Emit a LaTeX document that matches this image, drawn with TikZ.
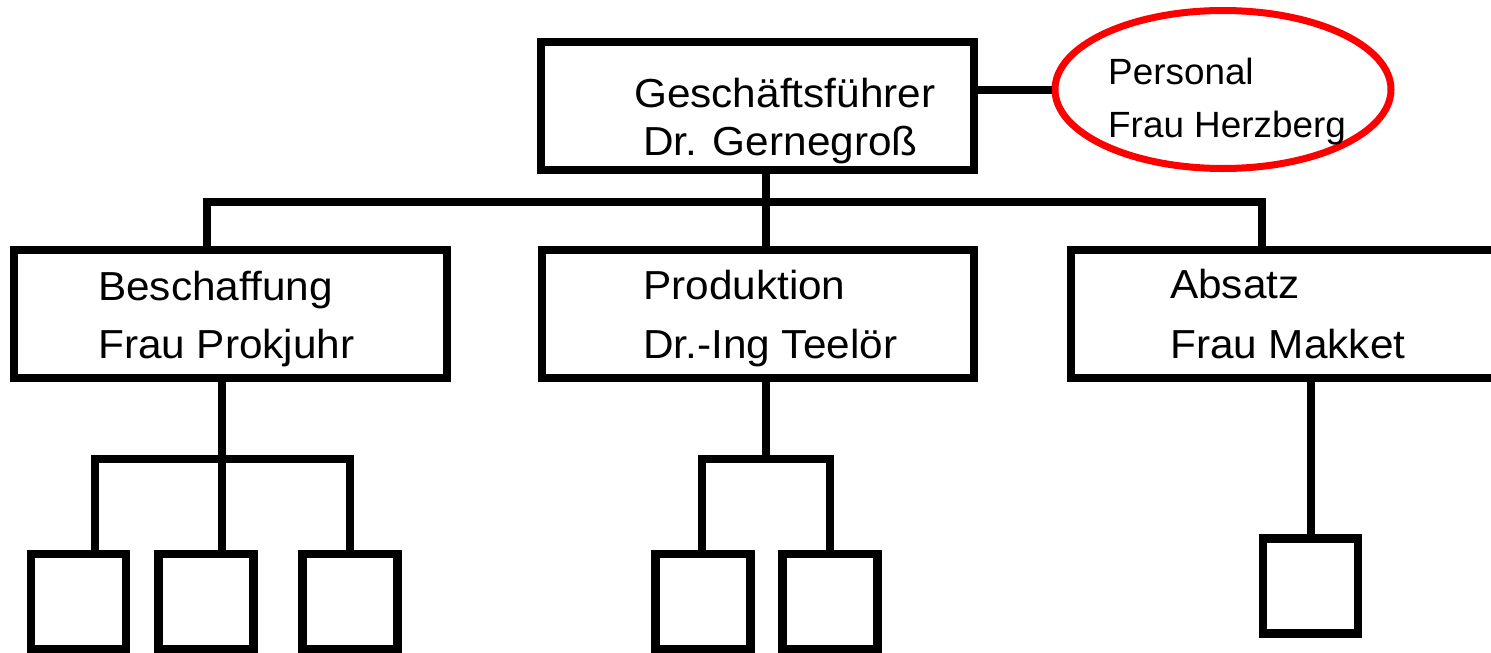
\documentclass[tikz,border=0pt]{standalone}
\usepackage{fontspec}
\setmainfont{Liberation Sans}[FakeStretch=1.045]
\newfontfamily\stafffont{Liberation Sans}[FakeStretch=1.01]
\usetikzlibrary{shapes.geometric}
\begin{document}
\begin{tikzpicture}[x=1pt,y=-1pt,
  unit/.style={draw=black,line width=8.5pt,rectangle,inner sep=0pt},
  dept/.style={unit,minimum width=433pt,minimum height=128pt},
  leaf/.style={unit,minimum width=95pt,minimum height=95pt},
  link/.style={draw=black,line width=8pt},
  lbl/.style={anchor=base west,inner sep=0pt,font=\fontsize{40.5}{49}\selectfont},
  slbl/.style={anchor=base west,inner sep=0pt,font=\stafffont\fontsize{36.5}{43}\selectfont},
  staff/.style={draw=red,line width=7pt,ellipse,inner sep=0pt,minimum width=336pt,minimum height=158pt}
]
\useasboundingbox (0,0) rectangle (1491,653);
\clip (0,0) rectangle (1491,653);

% management and staff position
\node[dept] (gf) at (757.5,106) {};
\node[staff] (pers) at (1223,89.5) {};

% departments
\node[dept] (bes) at (230.5,314) {};
\node[dept,minimum width=432pt] (prod) at (758,314) {};
\node[dept,minimum width=500pt] (abs) at (1321,314) {};

% sub-units
\node[leaf] (b1) at (78.5,601.5) {};
\node[leaf] (b2) at (206,601.5) {};
\node[leaf] (b3) at (350,601.5) {};
\node[leaf] (p1) at (703,601.5) {};
\node[leaf] (p2) at (830,601.5) {};
\node[leaf] (a1) at (1310.5,586) {};

% labels
\node[lbl] (gft1) at (634,107) {Geschäftsführer};
\node[lbl] (gft2) at (643,155) {Dr. Gernegroß};
\node[slbl] (pt1) at (1108,84) {Personal};
\node[slbl] (pt2) at (1108,137) {Frau Herzberg};
\node[lbl] (bt1) at (98,300) {Beschaffung};
\node[lbl] (bt2) at (98,358) {Frau Prokjuhr};
\node[lbl] (prt1) at (643,299) {Produktion};
\node[lbl] (prt2) at (643,358) {Dr.-Ing Teelör};
\node[lbl] (at1) at (1170,298) {Absatz};
\node[lbl] (at2) at (1170,358) {Frau Makket};

% junction points
\coordinate (sl) at (1000,90);
\coordinate (busL) at (207,202);
\coordinate (busM) at (766,202);
\coordinate (busR) at (1262,202);
\coordinate (bL) at (95,459);
\coordinate (bM) at (222,459);
\coordinate (bR) at (350,459);
\coordinate (pL) at (702,459);
\coordinate (pM) at (766,459);
\coordinate (pR) at (830,459);
\coordinate (aM) at (1311,459);

% connectors
\draw[link] (gf.east |- sl) -- (pers.west |- sl);
\draw[link] (bes.north -| busL) -- (busL) -- (busR) -- (abs.north -| busR);
\draw[link] (gf.south -| busM) -- (prod.north -| busM);

\draw[link] (bes.south -| bM) -- (b2.north -| bM);
\draw[link] (b1.north -| bL) -- (bL) -- (bR) -- (b3.north -| bR);

\draw[link] (prod.south -| pM) -- (pM);
\draw[link] (p1.north -| pL) -- (pL) -- (pR) -- (p2.north -| pR);

\draw[link] (abs.south -| aM) -- (a1.north -| aM);
\end{tikzpicture}
\end{document}
